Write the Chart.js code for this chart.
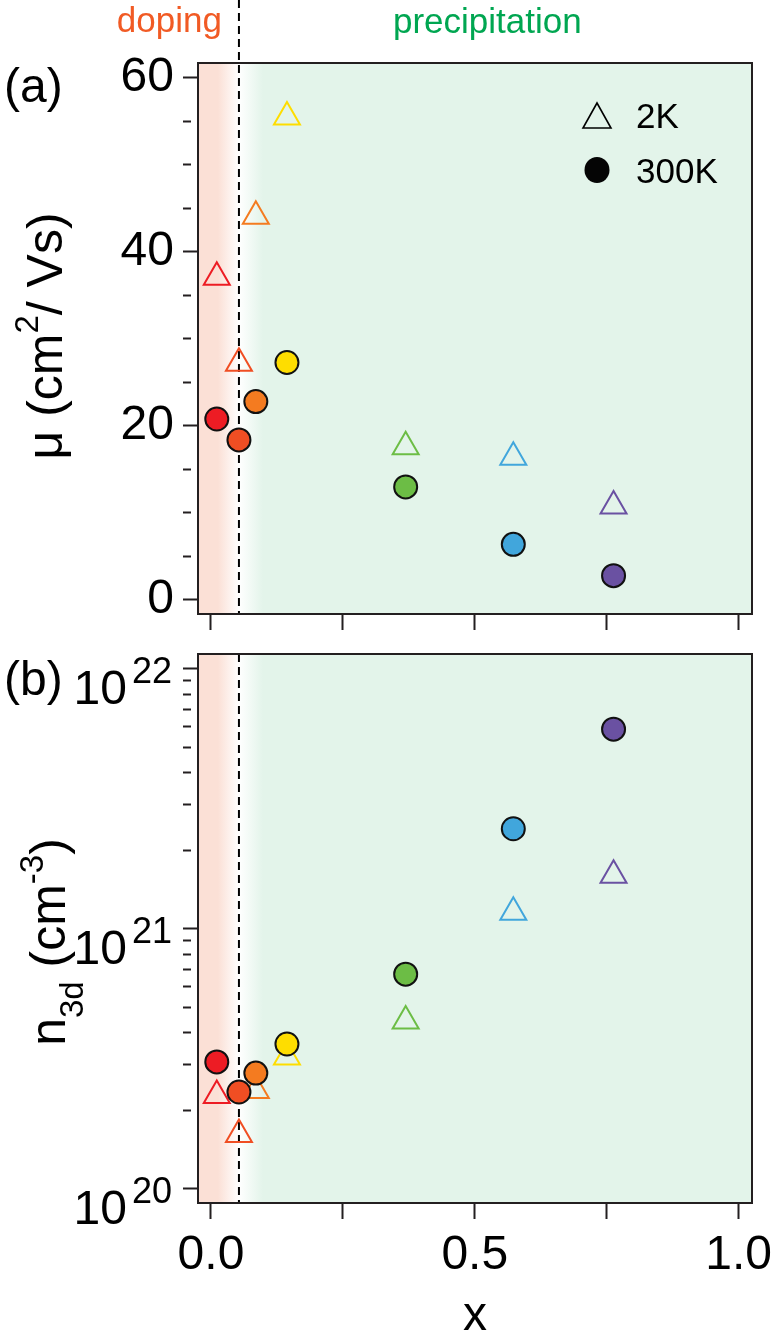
<!DOCTYPE html>
<html>
<head>
<meta charset="utf-8">
<script src="https://cdn.jsdelivr.net/npm/chart.js@4.4.1/dist/chart.umd.min.js"></script>
<style>
  html, body { margin: 0; padding: 0; background: #fff; }
  body { width: 779px; height: 1342px; position: relative; overflow: hidden; }
  .panel { position: absolute; left: 0; width: 779px; }
  #wrapA { top: 0; height: 640px; }
  #wrapB { top: 640px; height: 702px; }
</style>
</head>
<body>
<div class="panel" id="wrapA"><canvas id="chartA"></canvas></div>
<div class="panel" id="wrapB"><canvas id="chartB"></canvas></div>
<script>
// values
const xComp   = [0.011, 0.053, 0.085, 0.144, 0.369, 0.573, 0.763];
const mu2K    = [37.1, 27.2, 44.1, 55.5, 17.6, 16.4, 10.8];
const mu300K  = [20.8, 18.4, 22.8, 27.3, 13.0, 6.4, 2.8];
const n2K     = [2.29e20, 1.62e20, 2.39e20, 3.22e20, 4.43e20, 1.16e21, 1.61e21];
const n300K   = [3.08e20, 2.36e20, 2.79e20, 3.61e20, 6.7e20, 2.43e21, 5.87e21];
const sampleColors = ['#ed1c24', '#f04e23', '#f47b20', '#fedd00', '#6cbd45', '#41a6dc', '#6a51a2'];
const seriesNames  = ['2K', '300K'];

const xTicks      = [0, 0.25, 0.5, 0.75, 1.0];
const xTickLabels = ['0.0', '', '0.5', '', '1.0'];
const muTicks     = [0, 5, 10, 15, 20, 25, 30, 35, 40, 45, 50, 55, 60];
const muMajor     = [0, 20, 40, 60];
const nDecades    = [20, 21, 22];
const dopingBoundary = 0.053;

const FONT  = "'Liberation Sans', Arial, Helvetica, sans-serif";
const FRAME = '#231f20';
const PINK  = '#fbe0d6';
const GREEN = '#e3f4ea';

// minor log ticks 2..9 inside each decade, last decade only its major tick
const nTicks = [];
nDecades.forEach((d, i) => {
  const ks = i < nDecades.length - 1 ? [1, 2, 3, 4, 5, 6, 7, 8, 9] : [1];
  ks.forEach(k => nTicks.push(k * Math.pow(10, d)));
});
const isDecade = v => nDecades.some(d => Math.abs(v / Math.pow(10, d) - 1) < 1e-6);

function pts(ys) { return xComp.map((x, i) => ({ x: x, y: ys[i] })); }

function datasets(y2K, y300K) {
  return [
    { label: seriesNames[0], data: pts(y2K), pointStyle: 'triangle', pointRadius: 15,
      pointBorderWidth: 2, pointBorderColor: sampleColors, pointBackgroundColor: 'rgba(0,0,0,0)', order: 1 },
    { label: seriesNames[1], data: pts(y300K), pointStyle: 'circle', pointRadius: 11.5,
      pointBorderWidth: 2, pointBorderColor: '#111', pointBackgroundColor: sampleColors, order: 0 }
  ];
}

function gridOpts(len, majorFn) {
  return {
    drawOnChartArea: false, drawTicks: true, tickLength: len, tickWidth: 2, tickColor: FRAME,
    tickBorderDash: c => (c.tick && !majorFn(c.tick.value)) ? [8, 60] : []
  };
}

// keep label overhang from shrinking the plot area
function noPad(s) { s.paddingTop = 0; s.paddingBottom = 0; s.paddingLeft = 0; s.paddingRight = 0; }

function xScale(showLabels, height) {
  return {
    type: 'linear', min: -0.0246, max: 1.0254,
    afterBuildTicks: s => { s.ticks = xTicks.map(v => ({ value: v })); },
    afterFit: s => { s.height = height; noPad(s); },
    border: { display: false },
    grid: gridOpts(16, () => true),
    ticks: { display: showLabels, autoSkip: false, maxRotation: 0, padding: 8,
      color: '#000', font: { family: FONT, size: 48 },
      callback: (v, i) => xTickLabels[i] },
    title: { display: showLabels, text: 'x', color: '#000', font: { family: FONT, size: 48, lineHeight: 1 },
      padding: { top: 0, bottom: 1 } }
  };
}

// y title with super/subscripts, rotated
function drawRich(ctx, parts, baseX, cy) {
  ctx.save();
  let total = 0;
  parts.forEach(p => {
    ctx.font = p.size + 'px ' + FONT;
    p.w = ctx.measureText(p.text).width;
    total += p.w;
  });
  ctx.translate(baseX, cy);
  ctx.rotate(-Math.PI / 2);
  ctx.fillStyle = '#000';
  ctx.textAlign = 'left';
  ctx.textBaseline = 'alphabetic';
  let x = -total / 2;
  parts.forEach(p => {
    ctx.font = p.size + 'px ' + FONT;
    ctx.fillText(p.text, x, -(p.rise || 0));
    x += p.w;
  });
  ctx.restore();
}

function fillBackground(chart) {
  const ctx = chart.ctx, a = chart.chartArea;
  const xb = chart.scales.x.getPixelForValue(dopingBoundary);
  const f = px => Math.min(1, Math.max(0, (px - a.left) / (a.right - a.left)));
  const g = ctx.createLinearGradient(a.left, 0, a.right, 0);
  g.addColorStop(0, PINK);
  g.addColorStop(f(xb - 21), PINK);
  g.addColorStop(f(xb), '#ffffff');
  g.addColorStop(f(xb + 24), GREEN);
  g.addColorStop(1, GREEN);
  ctx.save();
  ctx.fillStyle = g;
  ctx.fillRect(a.left, a.top, a.right - a.left, a.bottom - a.top);
  ctx.restore();
}

function dashedBoundary(chart, yTop) {
  const ctx = chart.ctx, a = chart.chartArea;
  const xb = chart.scales.x.getPixelForValue(dopingBoundary);
  ctx.save();
  ctx.strokeStyle = '#000';
  ctx.lineWidth = 2;
  ctx.setLineDash([8, 5]);
  ctx.beginPath();
  ctx.moveTo(xb, yTop);
  ctx.lineTo(xb, a.bottom);
  ctx.stroke();
  ctx.restore();
}

function frame(chart) {
  const ctx = chart.ctx, a = chart.chartArea;
  ctx.save();
  ctx.strokeStyle = FRAME;
  ctx.lineWidth = 2;
  ctx.strokeRect(a.left, a.top, a.right - a.left, a.bottom - a.top);
  ctx.restore();
}

function text(ctx, s, x, y, size, color, align) {
  ctx.save();
  ctx.font = size + 'px ' + FONT;
  ctx.fillStyle = color;
  ctx.textAlign = align || 'left';
  ctx.textBaseline = 'alphabetic';
  ctx.fillText(s, x, y);
  ctx.restore();
}

const decorA = {
  id: 'decorA',
  beforeDraw: c => fillBackground(c),
  beforeDatasetsDraw: c => dashedBoundary(c, 0),
  afterDraw: c => {
    const ctx = c.ctx;
    frame(c);
    const xb = c.scales.x.getPixelForValue(dopingBoundary);
    text(ctx, 'doping', xb - 17, 32, 35, '#f15a24', 'right');
    text(ctx, 'precipitation', xb + 154, 33, 35, '#00a651', 'left');
    text(ctx, '(a)', 4, 102, 48, '#000');
    drawRich(ctx, [
      { text: 'μ (cm', size: 50 },
      { text: '2', size: 33, rise: 24 },
      { text: '/ Vs)', size: 50 }
    ], 62, 336);
    // legend
    ctx.save();
    ctx.strokeStyle = '#000';
    ctx.lineWidth = 1.6;
    ctx.beginPath();
    ctx.moveTo(597, 103); ctx.lineTo(611, 128); ctx.lineTo(583, 128); ctx.closePath();
    ctx.stroke();
    ctx.fillStyle = '#050505';
    ctx.beginPath();
    ctx.ellipse(597, 170, 12.5, 13, 0, 0, Math.PI * 2);
    ctx.fill();
    ctx.restore();
    text(ctx, seriesNames[0], 636, 128, 35, '#000');
    text(ctx, seriesNames[1], 636, 183, 35, '#000');
  }
};

const decorB = {
  id: 'decorB',
  beforeDraw: c => fillBackground(c),
  beforeDatasetsDraw: c => dashedBoundary(c, c.chartArea.top),
  afterDraw: c => {
    const ctx = c.ctx, ys = c.scales.y;
    frame(c);
    text(ctx, '(b)', 4, 55, 48, '#000');
    nDecades.forEach(d => {
      const y = ys.getPixelForValue(Math.pow(10, d));
      text(ctx, '10', 127, y + 35, 48, '#000', 'right');
      text(ctx, String(d), 132, y + 14, 36, '#000', 'left');
    });
    drawRich(ctx, [
      { text: 'n', size: 50 },
      { text: '3d', size: 33, rise: -18 },
      { text: ' (cm', size: 50 },
      { text: '-3', size: 33, rise: 22 },
      { text: ')', size: 50 }
    ], 65, 302);
  }
};

const common = {
  responsive: true, maintainAspectRatio: false, animation: false, events: [],
  plugins: { legend: { display: false }, tooltip: { enabled: false } }
};

new Chart(document.getElementById('chartA'), {
  type: 'scatter',
  data: { datasets: datasets(mu2K, mu300K) },
  options: Object.assign({}, common, {
    layout: { autoPadding: false, padding: { left: 0, right: 27, top: 63, bottom: 0 } },
    scales: {
      x: xScale(false, 26),
      y: {
        type: 'linear', min: -1.61, max: 61.72,
        afterBuildTicks: s => { s.ticks = muTicks.map(v => ({ value: v })); },
        afterFit: s => { s.width = 198; noPad(s); },
        border: { display: false },
        grid: gridOpts(15, v => muMajor.includes(v)),
        ticks: { autoSkip: false, padding: 9, color: '#000', font: { family: FONT, size: 48 },
          callback: v => muMajor.includes(v) ? String(v) : '' }
      }
    }
  }),
  plugins: [decorA]
});

new Chart(document.getElementById('chartB'), {
  type: 'scatter',
  data: { datasets: datasets(n2K, n300K) },
  options: Object.assign({}, common, {
    layout: { autoPadding: false, padding: { left: 0, right: 27, top: 14, bottom: 0 } },
    scales: {
      x: xScale(true, 139),
      y: {
        type: 'logarithmic', min: 8.83e19, max: 1.142e22,
        afterBuildTicks: s => { s.ticks = nTicks.map(v => ({ value: v })); },
        afterFit: s => { s.width = 198; noPad(s); },
        border: { display: false },
        grid: gridOpts(15, isDecade),
        ticks: { display: false, autoSkip: false }
      }
    }
  }),
  plugins: [decorB]
});
</script>
</body>
</html>
